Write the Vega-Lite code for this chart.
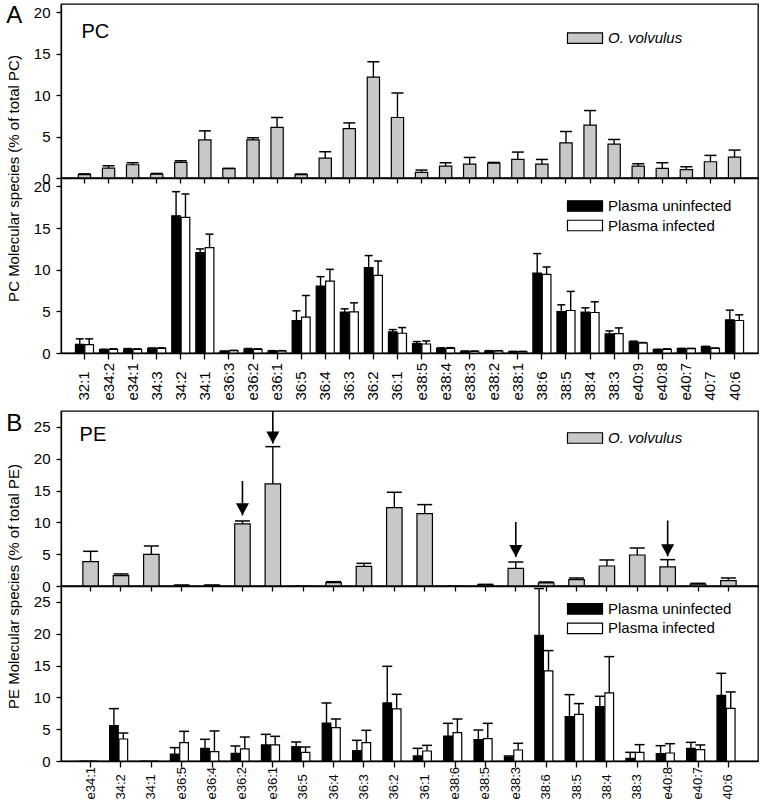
{
  "$schema": "https://vega.github.io/schema/vega-lite/v6.json",
  "padding": {"left": 5, "top": 3, "right": 0, "bottom": 5},
  "config": {
    "font": "Liberation Sans",
    "view": {"stroke": "black", "strokeWidth": 1.3},
    "axis": {"labelFontSize": 15, "labelColor": "black", "titleFontSize": 15, "titleFontWeight": "normal", "titleColor": "black", "tickColor": "black", "domainColor": "black", "tickWidth": 1.3, "domainWidth": 1.3, "grid": false, "labelPadding": 6, "tickSize": 5},
    "axisY": {"titlePadding": 12},
    "legend": {"orient": "none", "labelFontSize": 15, "labelColor": "black", "symbolStrokeColor": "black", "symbolStrokeWidth": 1.2, "symbolType": "M-2.92,-0.875H2.92V0.875H-2.92Z", "symbolSize": 144, "labelOffset": 15.5, "rowPadding": 2.5, "padding": 0, "symbolOpacity": 1},
    "title": {"fontSize": 24, "fontWeight": "normal", "color": "black", "anchor": "start", "frame": "bounds", "baseline": "top"}
  },
  "datasets": {
    "pc": [
      {"cat": "32:1", "group": "O. volvulus", "value": 0.4, "hi": 0.5},
      {"cat": "e34:2", "group": "O. volvulus", "value": 1.2, "hi": 1.48},
      {"cat": "e34:1", "group": "O. volvulus", "value": 1.6, "hi": 1.84},
      {"cat": "34:3", "group": "O. volvulus", "value": 0.45, "hi": 0.55},
      {"cat": "34:2", "group": "O. volvulus", "value": 1.88, "hi": 2.08},
      {"cat": "34:1", "group": "O. volvulus", "value": 4.6, "hi": 5.69},
      {"cat": "e36:3", "group": "O. volvulus", "value": 1.12, "hi": 1.17},
      {"cat": "e36:2", "group": "O. volvulus", "value": 4.6, "hi": 4.85},
      {"cat": "e36:1", "group": "O. volvulus", "value": 6.1, "hi": 7.3},
      {"cat": "36:5", "group": "O. volvulus", "value": 0.4, "hi": 0.48},
      {"cat": "36:4", "group": "O. volvulus", "value": 2.4, "hi": 3.17},
      {"cat": "36:3", "group": "O. volvulus", "value": 5.97, "hi": 6.65},
      {"cat": "36:2", "group": "O. volvulus", "value": 12.18, "hi": 14.03},
      {"cat": "36:1", "group": "O. volvulus", "value": 7.3, "hi": 10.26},
      {"cat": "e38:5", "group": "O. volvulus", "value": 0.68, "hi": 0.96},
      {"cat": "e38:4", "group": "O. volvulus", "value": 1.44, "hi": 1.84},
      {"cat": "e38:3", "group": "O. volvulus", "value": 1.68, "hi": 2.48},
      {"cat": "e38:2", "group": "O. volvulus", "value": 1.8, "hi": 1.88},
      {"cat": "e38:1", "group": "O. volvulus", "value": 2.24, "hi": 3.13},
      {"cat": "38:6", "group": "O. volvulus", "value": 1.68, "hi": 2.24},
      {"cat": "38:5", "group": "O. volvulus", "value": 4.25, "hi": 5.61},
      {"cat": "38:4", "group": "O. volvulus", "value": 6.37, "hi": 8.14},
      {"cat": "38:3", "group": "O. volvulus", "value": 4.09, "hi": 4.65},
      {"cat": "e40:9", "group": "O. volvulus", "value": 1.44, "hi": 1.72},
      {"cat": "e40:8", "group": "O. volvulus", "value": 1.16, "hi": 1.84},
      {"cat": "e40:7", "group": "O. volvulus", "value": 1.0, "hi": 1.36},
      {"cat": "40:7", "group": "O. volvulus", "value": 1.96, "hi": 2.73},
      {"cat": "40:6", "group": "O. volvulus", "value": 2.52, "hi": 3.37},
      {"cat": "32:1", "group": "Plasma uninfected", "value": 1.05, "hi": 1.7},
      {"cat": "e34:2", "group": "Plasma uninfected", "value": 0.4, "hi": 0.45},
      {"cat": "e34:1", "group": "Plasma uninfected", "value": 0.48, "hi": 0.53},
      {"cat": "34:3", "group": "Plasma uninfected", "value": 0.56, "hi": 0.6},
      {"cat": "34:2", "group": "Plasma uninfected", "value": 16.47, "hi": 19.36},
      {"cat": "34:1", "group": "Plasma uninfected", "value": 12.05, "hi": 12.49},
      {"cat": "e36:3", "group": "Plasma uninfected", "value": 0.2, "hi": 0.24},
      {"cat": "e36:2", "group": "Plasma uninfected", "value": 0.48, "hi": 0.54},
      {"cat": "e36:1", "group": "Plasma uninfected", "value": 0.24, "hi": 0.28},
      {"cat": "36:5", "group": "Plasma uninfected", "value": 3.9, "hi": 5.06},
      {"cat": "36:4", "group": "Plasma uninfected", "value": 8.03, "hi": 9.16},
      {"cat": "36:3", "group": "Plasma uninfected", "value": 4.9, "hi": 5.3},
      {"cat": "36:2", "group": "Plasma uninfected", "value": 10.24, "hi": 11.69},
      {"cat": "36:1", "group": "Plasma uninfected", "value": 2.53, "hi": 2.81},
      {"cat": "e38:5", "group": "Plasma uninfected", "value": 1.12, "hi": 1.37},
      {"cat": "e38:4", "group": "Plasma uninfected", "value": 0.56, "hi": 0.62},
      {"cat": "e38:3", "group": "Plasma uninfected", "value": 0.2, "hi": 0.24},
      {"cat": "e38:2", "group": "Plasma uninfected", "value": 0.24, "hi": 0.28},
      {"cat": "e38:1", "group": "Plasma uninfected", "value": 0.16, "hi": 0.2},
      {"cat": "38:6", "group": "Plasma uninfected", "value": 9.6, "hi": 11.93},
      {"cat": "38:5", "group": "Plasma uninfected", "value": 4.98, "hi": 5.78},
      {"cat": "38:4", "group": "Plasma uninfected", "value": 4.9, "hi": 5.42},
      {"cat": "38:3", "group": "Plasma uninfected", "value": 2.29, "hi": 2.65},
      {"cat": "e40:9", "group": "Plasma uninfected", "value": 1.37, "hi": 1.42},
      {"cat": "e40:8", "group": "Plasma uninfected", "value": 0.4, "hi": 0.45},
      {"cat": "e40:7", "group": "Plasma uninfected", "value": 0.52, "hi": 0.56},
      {"cat": "40:7", "group": "Plasma uninfected", "value": 0.76, "hi": 0.8},
      {"cat": "40:6", "group": "Plasma uninfected", "value": 3.98, "hi": 5.14},
      {"cat": "32:1", "group": "Plasma infected", "value": 1.0, "hi": 1.7},
      {"cat": "e34:2", "group": "Plasma infected", "value": 0.44, "hi": 0.5},
      {"cat": "e34:1", "group": "Plasma infected", "value": 0.44, "hi": 0.5},
      {"cat": "34:3", "group": "Plasma infected", "value": 0.56, "hi": 0.62},
      {"cat": "34:2", "group": "Plasma infected", "value": 16.27, "hi": 19.08},
      {"cat": "34:1", "group": "Plasma infected", "value": 12.65, "hi": 14.26},
      {"cat": "e36:3", "group": "Plasma infected", "value": 0.28, "hi": 0.32},
      {"cat": "e36:2", "group": "Plasma infected", "value": 0.44, "hi": 0.5},
      {"cat": "e36:1", "group": "Plasma infected", "value": 0.24, "hi": 0.28},
      {"cat": "36:5", "group": "Plasma infected", "value": 4.3, "hi": 6.9},
      {"cat": "36:4", "group": "Plasma infected", "value": 8.63, "hi": 10.04},
      {"cat": "36:3", "group": "Plasma infected", "value": 4.94, "hi": 6.02},
      {"cat": "36:2", "group": "Plasma infected", "value": 9.32, "hi": 11.04},
      {"cat": "36:1", "group": "Plasma infected", "value": 2.37, "hi": 3.05},
      {"cat": "e38:5", "group": "Plasma infected", "value": 1.08, "hi": 1.45},
      {"cat": "e38:4", "group": "Plasma infected", "value": 0.56, "hi": 0.64},
      {"cat": "e38:3", "group": "Plasma infected", "value": 0.2, "hi": 0.24},
      {"cat": "e38:2", "group": "Plasma infected", "value": 0.24, "hi": 0.28},
      {"cat": "e38:1", "group": "Plasma infected", "value": 0.16, "hi": 0.2},
      {"cat": "38:6", "group": "Plasma infected", "value": 9.44, "hi": 10.32},
      {"cat": "38:5", "group": "Plasma infected", "value": 5.1, "hi": 7.39},
      {"cat": "38:4", "group": "Plasma infected", "value": 4.86, "hi": 6.14},
      {"cat": "38:3", "group": "Plasma infected", "value": 2.33, "hi": 3.01},
      {"cat": "e40:9", "group": "Plasma infected", "value": 1.2, "hi": 1.25},
      {"cat": "e40:8", "group": "Plasma infected", "value": 0.44, "hi": 0.5},
      {"cat": "e40:7", "group": "Plasma infected", "value": 0.52, "hi": 0.56},
      {"cat": "40:7", "group": "Plasma infected", "value": 0.56, "hi": 0.6},
      {"cat": "40:6", "group": "Plasma infected", "value": 3.9, "hi": 4.58}
    ],
    "pe": [
      {"cat": "e34:1", "group": "O. volvulus", "value": 3.83, "hi": 5.45},
      {"cat": "34:2", "group": "O. volvulus", "value": 1.62, "hi": 1.89},
      {"cat": "34:1", "group": "O. volvulus", "value": 4.98, "hi": 6.29},
      {"cat": "e36:5", "group": "O. volvulus", "value": 0.12, "hi": 0.15},
      {"cat": "e36:4", "group": "O. volvulus", "value": 0.12, "hi": 0.15},
      {"cat": "e36:2", "group": "O. volvulus", "value": 9.75, "hi": 10.22},
      {"cat": "e36:1", "group": "O. volvulus", "value": 16.04, "hi": 21.9},
      {"cat": "36:5", "group": "O. volvulus", "value": 0, "hi": 0},
      {"cat": "36:4", "group": "O. volvulus", "value": 0.52, "hi": 0.68},
      {"cat": "36:3", "group": "O. volvulus", "value": 3.09, "hi": 3.56},
      {"cat": "36:2", "group": "O. volvulus", "value": 12.33, "hi": 14.73},
      {"cat": "36:1", "group": "O. volvulus", "value": 11.37, "hi": 12.79},
      {"cat": "e38:6", "group": "O. volvulus", "value": 0, "hi": 0},
      {"cat": "e38:5", "group": "O. volvulus", "value": 0.2, "hi": 0.26},
      {"cat": "e38:3", "group": "O. volvulus", "value": 2.78, "hi": 3.77},
      {"cat": "38:6", "group": "O. volvulus", "value": 0.5, "hi": 0.63},
      {"cat": "38:5", "group": "O. volvulus", "value": 1.0, "hi": 1.26},
      {"cat": "38:4", "group": "O. volvulus", "value": 3.14, "hi": 4.09},
      {"cat": "38:3", "group": "O. volvulus", "value": 4.87, "hi": 5.97},
      {"cat": "e40:8", "group": "O. volvulus", "value": 2.99, "hi": 4.14},
      {"cat": "e40:7", "group": "O. volvulus", "value": 0.31, "hi": 0.42},
      {"cat": "40:6", "group": "O. volvulus", "value": 0.84, "hi": 1.26},
      {"cat": "e34:1", "group": "Plasma uninfected", "value": 0, "hi": 0},
      {"cat": "34:2", "group": "Plasma uninfected", "value": 5.56, "hi": 8.23},
      {"cat": "34:1", "group": "Plasma uninfected", "value": 0, "hi": 0},
      {"cat": "e36:5", "group": "Plasma uninfected", "value": 1.1, "hi": 2.1},
      {"cat": "e36:4", "group": "Plasma uninfected", "value": 1.99, "hi": 3.41},
      {"cat": "e36:2", "group": "Plasma uninfected", "value": 1.2, "hi": 2.36},
      {"cat": "e36:1", "group": "Plasma uninfected", "value": 2.52, "hi": 4.19},
      {"cat": "36:5", "group": "Plasma uninfected", "value": 2.25, "hi": 2.99},
      {"cat": "36:4", "group": "Plasma uninfected", "value": 5.97, "hi": 9.12},
      {"cat": "36:3", "group": "Plasma uninfected", "value": 1.62, "hi": 3.25},
      {"cat": "36:2", "group": "Plasma uninfected", "value": 9.12, "hi": 14.88},
      {"cat": "36:1", "group": "Plasma uninfected", "value": 0.79, "hi": 1.99},
      {"cat": "e38:6", "group": "Plasma uninfected", "value": 3.93, "hi": 5.92},
      {"cat": "e38:5", "group": "Plasma uninfected", "value": 3.35, "hi": 4.87},
      {"cat": "e38:3", "group": "Plasma uninfected", "value": 0.63, "hi": 0.79},
      {"cat": "38:6", "group": "Plasma uninfected", "value": 19.76, "hi": 27.1},
      {"cat": "38:5", "group": "Plasma uninfected", "value": 6.97, "hi": 10.43},
      {"cat": "38:4", "group": "Plasma uninfected", "value": 8.54, "hi": 10.17},
      {"cat": "38:3", "group": "Plasma uninfected", "value": 0.42, "hi": 1.36},
      {"cat": "e40:8", "group": "Plasma uninfected", "value": 1.15, "hi": 2.41},
      {"cat": "e40:7", "group": "Plasma uninfected", "value": 1.99, "hi": 2.93},
      {"cat": "40:6", "group": "Plasma uninfected", "value": 10.32, "hi": 13.78},
      {"cat": "e34:1", "group": "Plasma infected", "value": 0, "hi": 0},
      {"cat": "34:2", "group": "Plasma infected", "value": 3.46, "hi": 4.4},
      {"cat": "34:1", "group": "Plasma infected", "value": 0, "hi": 0},
      {"cat": "e36:5", "group": "Plasma infected", "value": 2.88, "hi": 4.66},
      {"cat": "e36:4", "group": "Plasma infected", "value": 1.47, "hi": 4.72},
      {"cat": "e36:2", "group": "Plasma infected", "value": 1.89, "hi": 3.77},
      {"cat": "e36:1", "group": "Plasma infected", "value": 2.52, "hi": 3.88},
      {"cat": "36:5", "group": "Plasma infected", "value": 1.36, "hi": 2.2},
      {"cat": "36:4", "group": "Plasma infected", "value": 5.24, "hi": 6.6},
      {"cat": "36:3", "group": "Plasma infected", "value": 2.88, "hi": 4.82},
      {"cat": "36:2", "group": "Plasma infected", "value": 8.18, "hi": 10.48},
      {"cat": "36:1", "group": "Plasma infected", "value": 1.57, "hi": 2.46},
      {"cat": "e38:6", "group": "Plasma infected", "value": 4.45, "hi": 6.6},
      {"cat": "e38:5", "group": "Plasma infected", "value": 3.51, "hi": 5.92},
      {"cat": "e38:3", "group": "Plasma infected", "value": 1.73, "hi": 2.78},
      {"cat": "38:6", "group": "Plasma infected", "value": 14.15, "hi": 17.35},
      {"cat": "38:5", "group": "Plasma infected", "value": 7.34, "hi": 9.02},
      {"cat": "38:4", "group": "Plasma infected", "value": 10.69, "hi": 16.4},
      {"cat": "38:3", "group": "Plasma infected", "value": 1.36, "hi": 2.57},
      {"cat": "e40:8", "group": "Plasma infected", "value": 1.26, "hi": 2.72},
      {"cat": "e40:7", "group": "Plasma infected", "value": 1.78, "hi": 2.52},
      {"cat": "40:6", "group": "Plasma infected", "value": 8.28, "hi": 10.85}
    ],
    "arrows": [
      {"cat": "e36:2", "tip": 11.1, "top": 16.5},
      {"cat": "e36:1", "tip": 22.4, "top": 27.5},
      {"cat": "e38:3", "tip": 4.56, "top": 10.06},
      {"cat": "e40:8", "tip": 4.66, "top": 10.3}
    ],
    "labels": [
      {"panel": "PC", "cat": "32:1", "y": 17.6, "label": "PC"},
      {"panel": "PE", "cat": "e34:1", "y": 23.7, "label": "PE"}
    ]
  },
  "spacing": 8,
  "resolve": {"scale": {"fill": "independent"}, "legend": {"fill": "independent"}},
  "vconcat": [
    {
      "spacing": 0,
      "bounds": "flush",
      "resolve": {"scale": {"fill": "independent"}, "legend": {"fill": "independent"}},
      "vconcat": [
        {
          "width": 697,
          "height": 174,
          "title": {"text": "A", "offset": -24},
          "data": {"name": "pc"},
          "transform": [{"filter": "datum.group === 'O. volvulus'"}],
          "encoding": {
            "x": {"field": "cat", "type": "nominal", "scale": {"domain": ["32:1","e34:2","e34:1","34:3","34:2","34:1","e36:3","e36:2","e36:1","36:5","36:4","36:3","36:2","36:1","e38:5","e38:4","e38:3","e38:2","e38:1","38:6","38:5","38:4","38:3","e40:9","e40:8","e40:7","40:7","40:6"], "paddingInner": 0.25, "paddingOuter": 0.6}, "axis": {"labels": false, "title": null, "tickSize": 5}}
          },
          "layer": [
            {
              "mark": {"type": "bar", "width": {"band": 0.68}, "stroke": "black", "strokeWidth": 1.2},
              "encoding": {
                "y": {"field": "value", "type": "quantitative", "scale": {"domain": [0, 21], "nice": false}, "axis": {"values": [0, 5, 10, 15, 20], "title": "PC Molecular species (% of total PC)", "titleY": 174}},
                "fill": {"field": "group", "type": "nominal", "scale": {"domain": ["O. volvulus"], "range": ["#c8c8c8"]}, "legend": {"title": null, "legendX": 516.5, "legendY": 26.7, "labelFontStyle": "italic"}}
              }
            },
            {
              "transform": [{"filter": "datum.hi > datum.value"}],
              "mark": {"type": "rule", "strokeWidth": 1.4, "color": "black"},
              "encoding": {"y": {"field": "value", "type": "quantitative", "scale": {"domain": [0, 21], "nice": false}, "axis": {"values": [0, 5, 10, 15, 20], "title": "PC Molecular species (% of total PC)", "titleY": 174}}, "y2": {"field": "hi"}}
            },
            {
              "transform": [{"filter": "datum.hi > datum.value"}],
              "mark": {"type": "tick", "size": 12, "thickness": 1.5, "color": "black", "opacity": 1},
              "encoding": {"y": {"field": "hi", "type": "quantitative", "scale": {"domain": [0, 21], "nice": false}, "axis": {"values": [0, 5, 10, 15, 20], "title": "PC Molecular species (% of total PC)", "titleY": 174}}}
            },
            {
              "data": {"name": "labels"},
              "transform": [{"filter": "datum.panel === 'PC'"}],
              "mark": {"type": "text", "align": "left", "baseline": "middle", "fontSize": 20, "dx": -3, "color": "black"},
              "encoding": {"y": {"field": "y", "type": "quantitative", "scale": {"domain": [0, 21], "nice": false}, "axis": {"values": [0, 5, 10, 15, 20], "title": "PC Molecular species (% of total PC)", "titleY": 174}}, "text": {"field": "label"}}
            }
          ]
        },
        {
          "width": 697,
          "height": 175,
          "data": {"name": "pc"},
          "transform": [{"filter": "datum.group !== 'O. volvulus'"}],
          "encoding": {
            "x": {"field": "cat", "type": "nominal", "scale": {"domain": ["32:1","e34:2","e34:1","34:3","34:2","34:1","e36:3","e36:2","e36:1","36:5","36:4","36:3","36:2","36:1","e38:5","e38:4","e38:3","e38:2","e38:1","38:6","38:5","38:4","38:3","e40:9","e40:8","e40:7","40:7","40:6"], "paddingInner": 0.25, "paddingOuter": 0.6}, "axis": {"title": null, "labelAngle": 270, "labelAlign": "left", "labelBaseline": "middle", "labelPadding": 41, "tickSize": 6, "labelFontSize": 15, "labelOverlap": false}},
            "xOffset": {"field": "group", "type": "nominal", "scale": {"domain": ["Plasma uninfected", "Plasma infected"], "paddingInner": 0.08}}
          },
          "layer": [
            {
              "mark": {"type": "bar", "stroke": "black", "strokeWidth": 1.2},
              "encoding": {
                "y": {"field": "value", "type": "quantitative", "scale": {"domain": [0, 21], "nice": false}, "axis": {"values": [0, 5, 10, 15, 20], "title": null}},
                "fill": {"field": "group", "type": "nominal", "scale": {"domain": ["Plasma uninfected", "Plasma infected"], "range": ["black", "white"]}, "legend": {"title": null, "legendX": 516.5, "legendY": 20.5}}
              }
            },
            {
              "transform": [{"filter": "datum.hi > datum.value"}],
              "mark": {"type": "rule", "strokeWidth": 1.4, "color": "black"},
              "encoding": {"y": {"field": "value", "type": "quantitative", "scale": {"domain": [0, 21], "nice": false}, "axis": {"values": [0, 5, 10, 15, 20], "title": null}}, "y2": {"field": "hi"}}
            },
            {
              "transform": [{"filter": "datum.hi > datum.value"}],
              "mark": {"type": "tick", "size": 8, "thickness": 1.5, "color": "black", "opacity": 1},
              "encoding": {"y": {"field": "hi", "type": "quantitative", "scale": {"domain": [0, 21], "nice": false}, "axis": {"values": [0, 5, 10, 15, 20], "title": null}}}
            }
          ]
        }
      ]
    },
    {
      "spacing": 0,
      "bounds": "flush",
      "resolve": {"scale": {"fill": "independent"}, "legend": {"fill": "independent"}},
      "vconcat": [
        {
          "width": 697,
          "height": 175,
          "title": {"text": "B", "offset": -26},
          "data": {"name": "pe"},
          "transform": [{"filter": "datum.group === 'O. volvulus'"}],
          "encoding": {
            "x": {"field": "cat", "type": "nominal", "scale": {"domain": ["e34:1","34:2","34:1","e36:5","e36:4","e36:2","e36:1","36:5","36:4","36:3","36:2","36:1","e38:6","e38:5","e38:3","38:6","38:5","38:4","38:3","e40:8","e40:7","40:6"], "paddingInner": 0.25, "paddingOuter": 0.6}, "axis": {"labels": false, "title": null, "tickSize": 5}}
          },
          "layer": [
            {
              "mark": {"type": "bar", "width": {"band": 0.68}, "stroke": "black", "strokeWidth": 1.2},
              "encoding": {
                "y": {"field": "value", "type": "quantitative", "scale": {"domain": [0, 27.5], "nice": false}, "axis": {"values": [0, 5, 10, 15, 20, 25], "title": "PE Molecular species (% of total PE)", "titleY": 175}},
                "fill": {"field": "group", "type": "nominal", "scale": {"domain": ["O. volvulus"], "range": ["#c8c8c8"]}, "legend": {"title": null, "legendX": 516.5, "legendY": 19.5, "labelFontStyle": "italic"}}
              }
            },
            {
              "transform": [{"filter": "datum.hi > datum.value"}],
              "mark": {"type": "rule", "strokeWidth": 1.4, "color": "black"},
              "encoding": {"y": {"field": "value", "type": "quantitative", "scale": {"domain": [0, 27.5], "nice": false}, "axis": {"values": [0, 5, 10, 15, 20, 25], "title": "PE Molecular species (% of total PE)", "titleY": 175}}, "y2": {"field": "hi"}}
            },
            {
              "transform": [{"filter": "datum.hi > datum.value"}],
              "mark": {"type": "tick", "size": 15, "thickness": 1.5, "color": "black", "opacity": 1},
              "encoding": {"y": {"field": "hi", "type": "quantitative", "scale": {"domain": [0, 27.5], "nice": false}, "axis": {"values": [0, 5, 10, 15, 20, 25], "title": "PE Molecular species (% of total PE)", "titleY": 175}}}
            },
            {
              "data": {"name": "arrows"},
              "mark": {"type": "rule", "strokeWidth": 1.6, "color": "black"},
              "encoding": {"y": {"field": "tip", "type": "quantitative", "scale": {"domain": [0, 27.5], "nice": false}, "axis": {"values": [0, 5, 10, 15, 20, 25], "title": "PE Molecular species (% of total PE)", "titleY": 175}}, "y2": {"field": "top"}}
            },
            {
              "data": {"name": "arrows"},
              "mark": {"type": "point", "shape": "M-1,-1.85L1,-1.85L0,0Z", "size": 169, "filled": true, "color": "black", "opacity": 1, "strokeWidth": 0},
              "encoding": {"y": {"field": "tip", "type": "quantitative", "scale": {"domain": [0, 27.5], "nice": false}, "axis": {"values": [0, 5, 10, 15, 20, 25], "title": "PE Molecular species (% of total PE)", "titleY": 175}}}
            },
            {
              "data": {"name": "labels"},
              "transform": [{"filter": "datum.panel === 'PE'"}],
              "mark": {"type": "text", "align": "left", "baseline": "middle", "fontSize": 20, "dx": -11, "color": "black"},
              "encoding": {"y": {"field": "y", "type": "quantitative", "scale": {"domain": [0, 27.5], "nice": false}, "axis": {"values": [0, 5, 10, 15, 20, 25], "title": "PE Molecular species (% of total PE)", "titleY": 175}}, "text": {"field": "label"}}
            }
          ]
        },
        {
          "width": 697,
          "height": 175,
          "data": {"name": "pe"},
          "transform": [{"filter": "datum.group !== 'O. volvulus'"}],
          "encoding": {
            "x": {"field": "cat", "type": "nominal", "scale": {"domain": ["e34:1","34:2","34:1","e36:5","e36:4","e36:2","e36:1","36:5","36:4","36:3","36:2","36:1","e38:6","e38:5","e38:3","38:6","38:5","38:4","38:3","e40:8","e40:7","40:6"], "paddingInner": 0.25, "paddingOuter": 0.6}, "axis": {"title": null, "labelAngle": 270, "labelAlign": "left", "labelBaseline": "middle", "labelPadding": 32, "tickSize": 6, "labelFontSize": 13, "labelOverlap": false}},
            "xOffset": {"field": "group", "type": "nominal", "scale": {"domain": ["Plasma uninfected", "Plasma infected"], "paddingInner": 0.08}}
          },
          "layer": [
            {
              "mark": {"type": "bar", "stroke": "black", "strokeWidth": 1.2},
              "encoding": {
                "y": {"field": "value", "type": "quantitative", "scale": {"domain": [0, 27.5], "nice": false}, "axis": {"values": [0, 5, 10, 15, 20, 25], "title": null}},
                "fill": {"field": "group", "type": "nominal", "scale": {"domain": ["Plasma uninfected", "Plasma infected"], "range": ["black", "white"]}, "legend": {"title": null, "legendX": 516.5, "legendY": 15.3}}
              }
            },
            {
              "transform": [{"filter": "datum.hi > datum.value"}],
              "mark": {"type": "rule", "strokeWidth": 1.4, "color": "black"},
              "encoding": {"y": {"field": "value", "type": "quantitative", "scale": {"domain": [0, 27.5], "nice": false}, "axis": {"values": [0, 5, 10, 15, 20, 25], "title": null}}, "y2": {"field": "hi"}}
            },
            {
              "transform": [{"filter": "datum.hi > datum.value"}],
              "mark": {"type": "tick", "size": 10, "thickness": 1.5, "color": "black", "opacity": 1},
              "encoding": {"y": {"field": "hi", "type": "quantitative", "scale": {"domain": [0, 27.5], "nice": false}, "axis": {"values": [0, 5, 10, 15, 20, 25], "title": null}}}
            }
          ]
        }
      ]
    }
  ]
}
